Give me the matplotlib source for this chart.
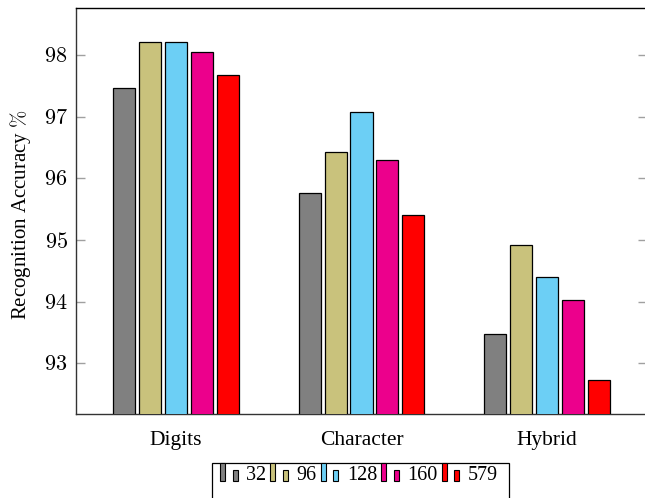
import numpy as np
import matplotlib
matplotlib.use('Agg')
import matplotlib.pyplot as plt
from matplotlib.patches import Rectangle
from matplotlib.legend_handler import HandlerBase

plt.rcParams['font.family'] = ['Liberation Serif', 'DejaVu Serif']
plt.rcParams['mathtext.fontset'] = 'cm'

# recognition accuracy per dataset and per feature size
categories = ['Digits', 'Character', 'Hybrid']
sizes = ['32', '96', '128', '160', '579']
acc_32 = [97.46, 95.76, 93.48]
acc_96 = [98.21, 96.43, 94.92]
acc_128 = [98.21, 97.08, 94.40]
acc_160 = [98.05, 96.29, 94.03]
acc_579 = [97.67, 95.40, 92.73]
series = [acc_32, acc_96, acc_128, acc_160, acc_579]
colors = ['#808080', '#C9C27C', '#6CCFF5', '#EC008C', '#FF0000']
yticks = [93, 94, 95, 96, 97, 98]


class TwoBarHandler(HandlerBase):
    """pgfplots-style ybar legend image: a tall bar and a shorter one."""
    def create_artists(self, legend, orig_handle, xdescent, ydescent,
                       width, height, fontsize, trans):
        fc = orig_handle.get_facecolor()
        bw = width * 0.28
        h = height * 1.3
        y0 = -ydescent - 0.12 * height
        r1 = Rectangle((-xdescent, y0), bw, h,
                       facecolor=fc, edgecolor='black', lw=0.8, transform=trans)
        r2 = Rectangle((-xdescent + width * 0.70, y0), bw, h * 0.6,
                       facecolor=fc, edgecolor='black', lw=0.8, transform=trans)
        return [r1, r2]


fig = plt.figure(figsize=(6.45, 4.98), dpi=100)
ax = fig.add_axes([76 / 645, 84 / 498, 571 / 645, 406 / 498])

x = np.arange(len(categories))
step = 0.139
width = 0.1186
handles = []
for i, (vals, col) in enumerate(zip(series, colors)):
    bars = ax.bar(x + (i - 2) * step, vals, width, color=col, edgecolor='black',
                  linewidth=0.9, label=sizes[i], zorder=3)
    handles.append(bars[0])

ax.set_xlim(-0.539, 2.539)
ax.set_ylim(92.18, 98.76)
ax.set_xticks(x)
ax.set_xticklabels(categories, fontsize=15.5)
ax.set_yticks(yticks)
ax.set_yticklabels([f'${t}$' for t in yticks], fontsize=16)
ax.tick_params(axis='x', length=0, pad=12)
ax.tick_params(axis='y', direction='in', length=6.5, width=1, color='#a0a0a0',
               right=True, pad=6)
for sp in ax.spines.values():
    sp.set_linewidth(1)
    sp.set_color('#333333')
ax.spines['top'].set_color('black')

ax.set_ylabel(r'Recognition Accuracy $\%$', fontsize=15)
ax.yaxis.set_label_coords(-0.075, 0.49)

# legend box runs off the bottom edge
frame = Rectangle((211.7 / 645, -0.05), (509 - 211.7) / 645, (498 - 463.3) / 498 + 0.05,
                  transform=fig.transFigure, facecolor='white', edgecolor='black',
                  lw=0.9, zorder=1)
fig.patches.append(frame)
leg = fig.legend(handles=handles, labels=sizes, loc='center',
                 bbox_to_anchor=(359 / 645, 1 - 475 / 498), ncol=5, frameon=False,
                 fontsize=14.5, handlelength=0.9, handletextpad=0.4, columnspacing=0.2,
                 handler_map={type(handles[0]): TwoBarHandler()})
leg.set_zorder(5)

fig.savefig('out.png', dpi=100)
